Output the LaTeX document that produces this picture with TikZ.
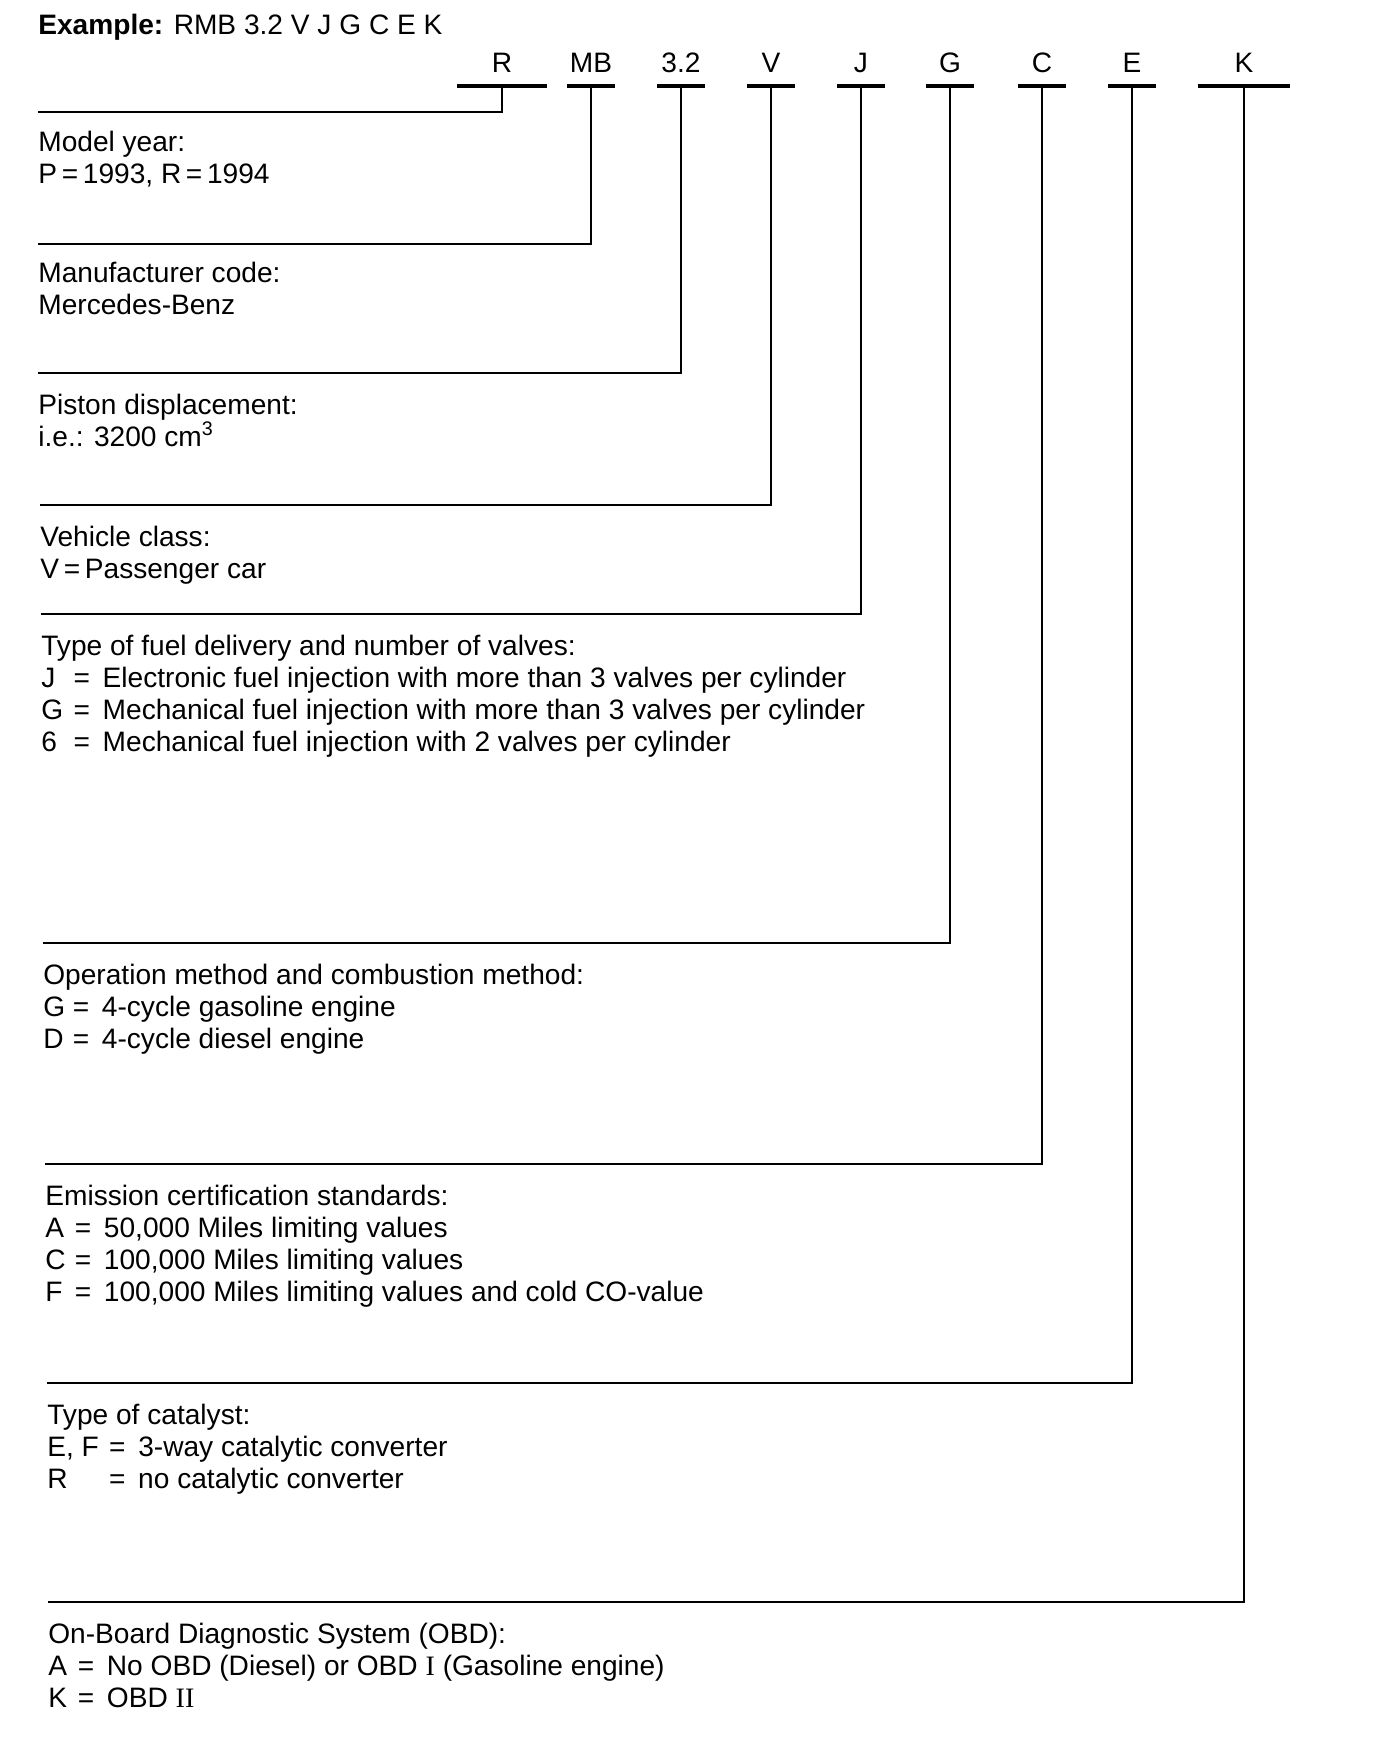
\documentclass[tikz,border=0pt]{standalone}
\usepackage{fontspec}
\setmainfont{Liberation Sans}
\newfontfamily\romanNum{Liberation Serif}
\usetikzlibrary{positioning}

% key letter in front of the "=" of a code list
\newcommand{\codeKey}[2][1.05em]{\makebox[#1][l]{#2}=\hspace{0.45em}}

\begin{document}
\begin{tikzpicture}[
    x=0.02cm, y=-0.02cm,
    font=\fontsize{16}{18.2}\selectfont,
    codeNode/.style={
        anchor=south, inner xsep=0pt, inner ysep=7.4pt,
        text depth=0pt, minimum width=0.94cm
    },
    wideCode/.style={codeNode, minimum width=1.8cm},
    descNode/.style={align=left, inner sep=0pt},
    bar/.style={line width=1.8pt},
    lead/.style={line width=1.2pt}
]
\useasboundingbox (0,0) rectangle (1376,1756);

\node[anchor=base west, inner sep=0pt] (Title) at (38,34)
  {\textbf{Example:} RMB 3.2 V J G C E K};

% code letters, each one sitting on its bar
\node[wideCode] (cR) at (502,86) {R};
\node[codeNode] (cMB) at (591,86) {MB};
\node[codeNode] (cDisp) at (681,86) {3.2};
\node[codeNode] (cV) at (771,86) {V};
\node[codeNode] (cJ) at (861,86) {J};
\node[codeNode] (cG) at (950,86) {G};
\node[codeNode] (cC) at (1042,86) {C};
\node[codeNode] (cE) at (1132,86) {E};
\node[wideCode, minimum width=1.84cm] (cK) at (1244,86) {K};

% left ends of the lead lines
\coordinate (yearL) at (38,112);
\coordinate (makerL) at (38,244);
\coordinate (dispL) at (38,373);
\coordinate (classL) at (40,505);
\coordinate (fuelL) at (41,614);
\coordinate (cycleL) at (43,943);
\coordinate (emisL) at (45,1164);
\coordinate (catL) at (47,1383);
\coordinate (obdL) at (48,1602);

\node[descNode, below right=0.38cm and 0pt of yearL] (Year)
  {Model year:\\P\,=\,1993, R\,=\,1994};
\node[descNode, below right=0.36cm and 0pt of makerL] (Maker)
  {Manufacturer code:\\Mercedes-Benz};
\node[descNode, below right=0.41cm and 0pt of dispL] (Disp)
  {Piston displacement:\\i.e.: 3200 cm\textsuperscript{3}};
\node[descNode, below right=0.41cm and 0pt of classL] (Class)
  {Vehicle class:\\V\,=\,Passenger car};
\node[descNode, below right=0.41cm and 0pt of fuelL] (Fuel)
  {Type of fuel delivery and number of valves:\\
   \codeKey[1.15em]{J}Electronic fuel injection with more than 3 valves per cylinder\\
   \codeKey[1.15em]{G}Mechanical fuel injection with more than 3 valves per cylinder\\
   \codeKey[1.15em]{6}Mechanical fuel injection with 2 valves per cylinder};
\node[descNode, below right=0.41cm and 0pt of cycleL] (Cycle)
  {Operation method and combustion method:\\
   \codeKey{G}4-cycle gasoline engine\\
   \codeKey{D}4-cycle diesel engine};
\node[descNode, below right=0.41cm and 0pt of emisL] (Emis)
  {Emission certification standards:\\
   \codeKey{A}50,000 Miles limiting values\\
   \codeKey{C}100,000 Miles limiting values\\
   \codeKey{F}100,000 Miles limiting values and cold CO-value};
\node[descNode, below right=0.41cm and 0pt of catL] (Cat)
  {Type of catalyst:\\
   \codeKey[2.2em]{E, F}3-way catalytic converter\\
   \codeKey[2.2em]{R}no catalytic converter};
\node[descNode, below right=0.41cm and 0pt of obdL] (Obd)
  {On-Board Diagnostic System (OBD):\\
   \codeKey{A}No OBD (Diesel) or OBD {\romanNum I} (Gasoline engine)\\
   \codeKey{K}OBD {\romanNum II}};

% bars under the code letters
\draw[bar] (cR.south west) -- (cR.south east);
\draw[bar] (cMB.south west) -- (cMB.south east);
\draw[bar] (cDisp.south west) -- (cDisp.south east);
\draw[bar] (cV.south west) -- (cV.south east);
\draw[bar] (cJ.south west) -- (cJ.south east);
\draw[bar] (cG.south west) -- (cG.south east);
\draw[bar] (cC.south west) -- (cC.south east);
\draw[bar] (cE.south west) -- (cE.south east);
\draw[bar] (cK.south west) -- (cK.south east);

% leads down and back to the left margin
\draw[lead] (cR.south) |- (yearL);
\draw[lead] (cMB.south) |- (makerL);
\draw[lead] (cDisp.south) |- (dispL);
\draw[lead] (cV.south) |- (classL);
\draw[lead] (cJ.south) |- (fuelL);
\draw[lead] (cG.south) |- (cycleL);
\draw[lead] (cC.south) |- (emisL);
\draw[lead] (cE.south) |- (catL);
\draw[lead] (cK.south) |- (obdL);

\end{tikzpicture}
\end{document}
